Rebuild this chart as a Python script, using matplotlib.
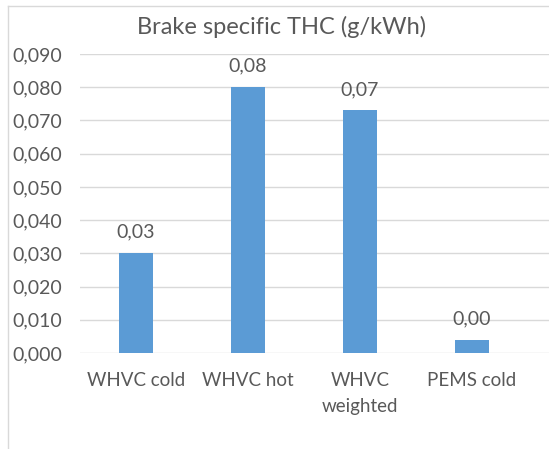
import matplotlib.pyplot as plt
from matplotlib.lines import Line2D

categories = ['WHVC cold', 'WHVC hot', 'WHVC\nweighted', 'PEMS cold']
values = [0.030, 0.080, 0.073, 0.004]
value_labels = ['0,03', '0,08', '0,07', '0,00']
yticks = [0.000, 0.010, 0.020, 0.030, 0.040, 0.050, 0.060, 0.070, 0.080, 0.090]
ytick_labels = ['0,000', '0,010', '0,020', '0,030', '0,040', '0,050', '0,060', '0,070', '0,080', '0,090']

text_color = '#595959'
grid_color = '#d9d9d9'
bar_color = '#5b9bd5'

plt.rcParams['font.family'] = ['Lato', 'DejaVu Sans']

W, H = 549, 449
fig = plt.figure(figsize=(W / 100, H / 100), dpi=100)
ax = fig.add_axes([80 / W, (H - 353) / H, (W - 80) / W, 299 / H])

x = range(len(categories))
ax.bar(x, values, width=0.3, color=bar_color, zorder=3)

for xi, v, lab in zip(x, values, value_labels):
    ax.annotate(lab, (xi, v), xytext=(0, 9), textcoords='offset points',
                ha='center', va='bottom', fontsize=14, color=text_color)

ax.set_ylim(0, 0.09)
ax.set_xlim(-0.5, -0.5 + (W - 80) / 112)
ax.set_yticks(yticks)
ax.set_yticklabels(ytick_labels)
ax.set_xticks(list(x))
ax.set_xticklabels(categories, linespacing=1.6)
ax.tick_params(axis='both', length=0, labelcolor=text_color)
ax.tick_params(axis='y', pad=13, labelsize=14)
ax.tick_params(axis='x', pad=14, labelsize=13.5)
ax.grid(axis='y', color=grid_color, linewidth=1, zorder=0)
for s in ax.spines.values():
    s.set_visible(False)

fig.text(282 / W, 1 - 27 / H, 'Brake specific THC (g/kWh)', ha='center', va='center',
         fontsize=17, color=text_color)

# chart border (cropped on the right and bottom)
fig.add_artist(Line2D([7.5 / W, 7.5 / W], [0, 1 - 5.5 / H], color=grid_color, linewidth=1))
fig.add_artist(Line2D([7.5 / W, 1], [1 - 5.5 / H, 1 - 5.5 / H], color=grid_color, linewidth=1))

fig.savefig('out.png', dpi=100)
